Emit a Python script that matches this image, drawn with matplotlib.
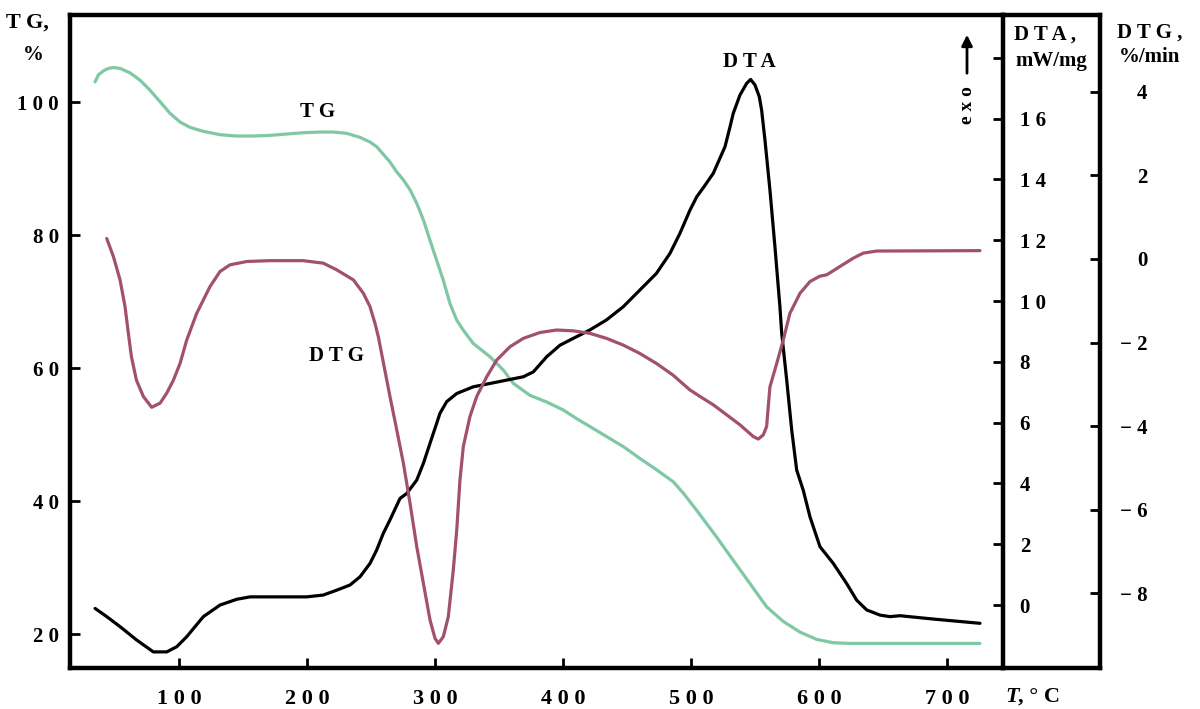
import matplotlib.pyplot as plt

plt.rcParams['font.family'] = ['Liberation Serif', 'DejaVu Serif']
plt.rcParams['font.weight'] = 'bold'

# TG curve, %
temp_tg = [34.4, 37.0, 40.9, 44.8, 48.7, 53.9, 61.7, 69.5, 77.3, 85.2, 93, 100.8, 108.6, 119,
           132, 145, 158, 171.1, 184.1, 197.1, 210.2, 220.6, 231, 241.4, 249.2, 254.4, 264.8,
           270.1, 275.3, 280.5, 285.7, 290.9, 296.1, 301.3, 306.5, 311.7, 317, 322.1, 329.9,
           343, 353.4, 361.2, 374.2, 387.3, 400.2, 410.7, 421.1, 434.1, 447.1, 460.2, 473.2,
           486.2, 494, 504.5, 520, 533, 546.1, 559.1, 572.1, 585.2, 598.2, 611.2, 624.2, 725.8]
tg = [103.05, 104.1, 104.7, 105.07, 105.2, 105.07, 104.4, 103.3, 101.8, 100.05, 98.3, 97.0, 96.2, 95.6,
      95.1, 94.9, 94.9, 95.0, 95.2, 95.4, 95.5, 95.5, 95.3, 94.7, 94.0, 93.3, 91.0,
      89.5, 88.3, 86.8, 84.8, 82.3, 79.2, 76.2, 73.2, 69.7, 67.2, 65.7, 63.7,
      61.7, 59.7, 57.7, 55.9, 54.9, 53.7, 52.4, 51.2, 49.7, 48.2, 46.4, 44.7,
      42.9, 41.2, 38.6, 34.6, 31.1, 27.6, 24.1, 21.9, 20.3, 19.2, 18.7, 18.6, 18.6]

# DTA curve, mW/mg
temp_dta = [34.4, 43.5, 53.9, 66.9, 79.9, 90.4, 98.2, 106, 119, 132, 145, 155.5, 199.8, 212.7,
            223.2, 233.6, 241.4, 249.2, 254.4, 259.6, 264.8, 272.7, 277.9, 285.7, 290.9, 298.7,
            303.9, 309.1, 317, 329.9, 343, 369, 376.8, 387.3, 397.7, 410.7, 421, 434, 447, 460,
            473, 483.6, 491.4, 499.2, 504.5, 510, 517.4, 526.6, 530.5, 533, 538.3, 543.5, 546.6,
            550, 553.4, 555.2, 557.8, 561.7, 565.6, 569.5, 570.9, 574.8, 578.7, 582.6, 587.7,
            593, 600.8, 611.2, 621.6, 629.5, 637.3, 647.7, 655.5, 663.3, 689.3, 725.8]
dta = [-0.11, -0.38, -0.71, -1.15, -1.54, -1.54, -1.37, -1.04, -0.38, 0.0, 0.19, 0.27, 0.27, 0.33,
       0.49, 0.66, 0.93, 1.37, 1.81, 2.36, 2.80, 3.51, 3.67, 4.11, 4.66, 5.65,
       6.31, 6.69, 6.96, 7.18, 7.29, 7.51, 7.67, 8.17, 8.55, 8.83, 9.05, 9.38, 9.81, 10.36,
       10.91, 11.57, 12.23, 12.99, 13.43, 13.75, 14.20, 15.08, 15.73, 16.17, 16.78, 17.16, 17.29,
       17.11, 16.72, 16.28, 15.30, 13.65, 11.79, 9.81, 8.94, 7.40, 5.76, 4.44, 3.78,
       2.90, 1.92, 1.37, 0.71, 0.16, -0.16, -0.33, -0.38, -0.35, -0.46, -0.60]

# DTG curve, %/min
temp_dtg = [43.5, 48.7, 53.9, 57.8, 60.4, 62.8, 66.7, 72.1, 78.6, 85.2, 90.4, 95.6, 100.8, 106,
            113.8, 124.2, 132, 139.8, 152.9, 171, 197, 212.7, 223.2, 236.2, 244, 249.2, 253.1,
            255.7, 264.8, 270.1, 275.3, 280.5, 285.7, 290.9, 296.1, 300, 302.6, 306.5, 310.4,
            314.3, 317, 319.5, 322.1, 327.3, 332.6, 340.4, 348.2, 358.6, 369, 382, 395, 408,
            421, 434, 447, 460, 473, 486, 499, 507, 517.4, 527.9, 538.3, 548.7, 552.6, 556.5,
            559.1, 560.4, 561.7, 567, 572.1, 577.3, 585.2, 593, 600.8, 606, 616.4, 626.8,
            634.6, 645, 725.8]
dtg = [0.49, 0.06, -0.50, -1.14, -1.78, -2.34, -2.90, -3.29, -3.55, -3.45, -3.21, -2.90, -2.50, -1.94,
       -1.30, -0.66, -0.30, -0.14, -0.06, -0.04, -0.04, -0.10, -0.26, -0.50, -0.82, -1.14, -1.54,
       -1.86, -3.29, -4.09, -4.89, -5.85, -6.88, -7.76, -8.64, -9.08, -9.20, -9.04, -8.56,
       -7.44, -6.48, -5.29, -4.49, -3.77, -3.29, -2.82, -2.42, -2.10, -1.90, -1.76, -1.70, -1.72,
       -1.78, -1.90, -2.06, -2.26, -2.50, -2.78, -3.13, -3.29, -3.49, -3.73, -3.97, -4.25, -4.31, -4.21,
       -4.01, -3.53, -3.06, -2.50, -1.94, -1.30, -0.82, -0.54, -0.41, -0.38, -0.18, 0.02,
       0.14, 0.19, 0.20]

x_ticks = [100, 200, 300, 400, 500, 600, 700]
x_labels = ['1 0 0', '2 0 0', '3 0 0', '4 0 0', '5 0 0', '6 0 0', '7 0 0']
tg_ticks = [20, 40, 60, 80, 100]
tg_labels = ['2 0', '4 0', '6 0', '8 0', '1 0 0']
dta_ticks = [0, 2, 4, 6, 8, 10, 12, 14, 16, 18]
dta_labels = ['0', '2', '4', '6', '8', '1 0', '1 2', '1 4', '1 6', '']
dtg_ticks = [-8, -6, -4, -2, 0, 2, 4]
dtg_labels = ['\u2212 8', '\u2212 6', '\u2212 4', '\u2212 2', '0', '2', '4']

green = '#80c8a3'
pink = '#a2506f'
W, H = 1200, 709

fig = plt.figure(figsize=(12, 7.09), dpi=100)
ax = fig.add_axes([70 / W, 41 / H, 933 / W, 653 / H])
ax_dta = ax.twinx()
ax_dtg = ax.twinx()
ax_g = fig.add_axes([1003 / W, 41 / H, 97 / W, 653 / H], sharey=ax_dtg)
ax_g.patch.set_visible(False)

ax.plot(temp_tg, tg, color=green, lw=2.3, solid_capstyle='round')
ax_dta.plot(temp_dta, dta, color='black', lw=2.3, solid_capstyle='round')
ax_dtg.plot(temp_dtg, dtg, color=pink, lw=2.3, solid_capstyle='round')

ax.set_xlim(14.8, 743.8)
ax.set_ylim(14.9, 113.1)
ax_dta.set_ylim(-2.07, 19.41)
ax_dtg.set_ylim(-9.79, 5.84)

# frame
for a in (ax, ax_dta, ax_dtg, ax_g):
    for s in a.spines.values():
        s.set_linewidth(3.2)
ax.spines['right'].set_visible(False)
for s in ('left', 'top', 'bottom'):
    ax_dta.spines[s].set_visible(False)
for s in ax_dtg.spines.values():
    s.set_visible(False)
ax_g.spines['left'].set_visible(False)

# ticks
ax.set_xticks(x_ticks, labels=x_labels)
ax.tick_params(axis='x', direction='in', length=7, width=2, pad=15, labelsize=16, top=False)
ax.set_yticks(tg_ticks, labels=tg_labels)
ax.tick_params(axis='y', direction='in', length=7, width=2, pad=8, labelsize=15)

ax_dta.set_yticks(dta_ticks, labels=dta_labels)
ax_dta.tick_params(axis='y', direction='in', length=7, width=2, pad=12, labelsize=15)

ax_g.set_xticks([])
ax_g.yaxis.tick_right()
ax_g.set_yticks(dtg_ticks, labels=dtg_labels)
ax_g.tick_params(axis='y', direction='in', length=7, width=2, pad=34, labelsize=15,
                 left=False, labelleft=False)
for lab in ax_g.get_yticklabels():
    lab.set_ha('right')
ax_dtg.tick_params(axis='y', right=False, labelright=False, left=False, labelleft=False)

# curve names
ax.text(208.6, 98.5, 'T G', fontsize=15, ha='center', va='center')
ax.text(222.7, 61.8, 'D T G', fontsize=15, ha='center', va='center')
ax.text(545.3, 106.0, 'D T A', fontsize=15, ha='center', va='center')

# axis titles
def ftext(x, y, s, **kw):
    fig.text(x / W, 1 - y / H, s, ha='center', va='center', **kw)

ftext(27, 23, 'T G,', fontsize=16)
ftext(33, 55, '%', fontsize=15)
ftext(1045, 35, 'D T A ,', fontsize=15)
ftext(1051, 61, 'mW/mg', fontsize=15)
ftext(1150, 33, 'D T G ,', fontsize=15)
ftext(1150, 57, '%/min', fontsize=15)
ftext(967, 105, 'e x o', fontsize=14, rotation=90)
fig.text(1005 / W, 1 - 697 / H, 'T', fontsize=16, style='italic', ha='left', va='center')
fig.text(1018 / W, 1 - 697 / H, ', \u00b0 C', fontsize=16, ha='left', va='center')
ax.annotate('', xy=(967, H - 32), xytext=(967, H - 76), xycoords='figure pixels',
            textcoords='figure pixels',
            arrowprops=dict(arrowstyle='-|>', lw=2, color='black', mutation_scale=16))

fig.savefig('out.png', dpi=100)
